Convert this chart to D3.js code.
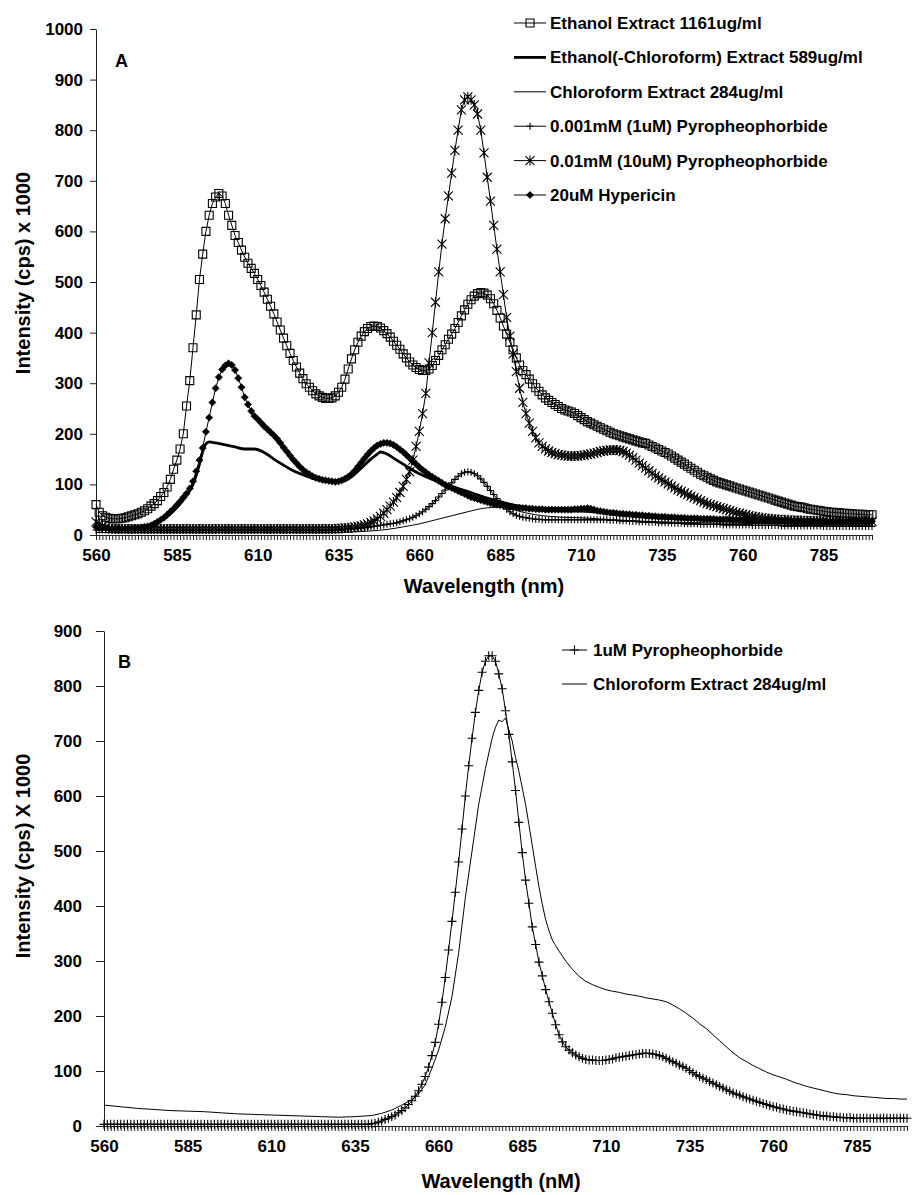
<!DOCTYPE html>
<html>
<head>
<meta charset="utf-8">
<script src="https://cdn.jsdelivr.net/npm/d3@7"></script>
<style>
  body { margin: 0; background: #fff; }
  text { font-family: "Liberation Sans", Arial, Helvetica, sans-serif; font-weight: bold; fill: #000; }
</style>
</head>
<body>
<div id="chart"></div>
<script>
// wavelength categories, 1 nm steps (560 .. 800)
const wavelengths = d3.range(560, 801);
const xTickLabels = [560, 585, 610, 635, 660, 685, 710, 735, 760, 785];

// ---- panel A, sampled every nm ----
const ethanolExtract = [
  60,45,38,35,33,32,32,32,33,34,
  36,38,40,42,45,48,52,57,62,68,
  76,84,95,110,130,148,170,200,255,305,
  370,435,505,555,600,632,655,668,675,670,
  655,632,612,592,578,563,549,537,527,517,
  505,493,480,466,452,437,421,405,389,374,
  359,345,332,320,309,299,292,285,279,275,
  272,270,270,271,275,282,292,308,328,348,
  366,381,393,402,408,412,413,412,409,404,
  398,391,383,375,367,358,350,342,336,331,
  327,325,325,328,335,345,355,366,376,387,
  397,408,420,433,445,456,465,472,477,479,
  478,474,467,457,444,429,413,397,381,366,
  350,336,325,317,308,299,291,284,277,271,
  266,262,258,254,250,247,245,243,240,236,
  232,228,224,221,218,215,212,209,206,203,
  200,198,196,194,192,190,188,186,184,182,
  181,178,175,172,169,166,163,160,156,152,
  148,144,140,136,132,128,124,120,117,114,
  111,108,105,103,101,99,97,95,93,91,
  89,87,85,83,81,79,77,75,73,71,
  69,67,65,63,61,59,57,56,55,54,
  52,51,50,49,48,47,46,45,45,44,
  44,43,43,42,42,41,41,41,40,40,
  40
];

const pyro1uM_A = [
  10,10,10,10,10,10,10,10,10,10,
  10,10,10,10,10,10,10,10,10,10,
  10,10,10,10,10,10,10,10,10,10,
  10,10,10,10,10,10,10,10,10,10,
  10,10,10,10,10,10,10,10,10,10,
  10,10,10,10,10,10,10,10,10,10,
  10,10,10,10,10,10,10,10,10,10,
  10,10,10,10,10,11,11,11,12,12,
  13,13,14,14,15,16,17,18,19,20,
  21,22,23,24,26,28,30,32,35,38,
  42,46,51,56,62,68,75,82,89,96,
  103,110,116,121,124,125,124,121,117,111,
  104,96,88,80,72,64,57,51,46,42,
  39,37,35,34,33,32,31,31,30,30,
  30,30,30,30,30,30,30,30,30,30,
  30,30,30,30,30,30,30,30,30,29,
  29,29,28,28,28,27,27,27,26,26,
  26,25,25,25,24,24,24,24,23,23,
  23,23,22,22,22,22,22,21,21,21,
  21,21,21,21,20,20,20,20,20,20,
  20,20,20,19,19,19,19,19,19,19,
  19,19,18,18,18,18,18,18,18,18,
  18,18,18,18,18,17,17,17,17,17,
  17,17,17,17,17,17,17,17,17,17,
  17
];

const pyro10uM_A = [
  26,22,18,15,13,12,12,12,12,12,
  12,12,12,12,12,12,12,12,12,12,
  12,12,12,12,12,12,12,12,12,12,
  12,12,12,12,12,12,12,12,12,12,
  12,12,12,12,12,12,12,12,12,12,
  12,12,12,12,12,12,12,12,12,12,
  12,12,12,12,12,12,12,12,12,12,
  12,12,12,12,12,13,13,14,14,15,
  16,17,18,20,22,25,28,32,37,43,
  50,57,65,74,84,96,110,125,148,175,
  205,240,280,340,400,460,520,575,625,670,
  715,760,800,840,860,866,860,850,832,800,
  755,707,660,612,565,520,475,430,393,358,
  323,290,262,240,221,205,192,182,175,170,
  166,163,161,159,158,157,156,156,156,156,
  157,158,159,160,162,163,165,166,167,168,
  168,168,167,165,162,158,153,148,142,137,
  132,127,122,117,113,109,105,101,97,93,
  89,86,83,80,77,74,71,68,65,62,
  60,58,56,54,52,50,48,46,44,43,
  41,40,38,37,36,35,34,33,32,32,
  31,31,30,30,30,29,29,29,29,28,
  28,28,28,28,28,28,27,27,27,27,
  27,27,27,27,27,27,27,27,27,27,
  27
];

const hypericin = [
  16,15,14,14,13,13,13,13,13,13,
  13,13,14,14,15,16,17,19,22,26,
  30,34,40,46,52,59,66,74,82,92,
  106,126,148,172,204,232,262,290,312,327,
  335,339,336,326,310,292,272,258,245,235,
  229,222,215,209,203,197,190,182,173,165,
  157,149,142,135,129,124,120,116,113,111,
  109,108,107,106,105,106,108,111,115,120,
  127,135,143,151,159,166,172,177,180,182,
  182,181,178,174,169,164,158,152,146,140,
  134,129,124,119,115,111,107,103,99,96,
  93,90,87,84,81,78,75,73,71,69,
  67,65,63,61,60,59,58,57,56,55,
  54,54,53,53,52,52,51,51,51,50,
  50,50,50,50,50,50,50,50,51,51,
  52,52,53,52,50,48,47,46,45,44,
  44,43,42,42,41,41,40,40,39,39,
  38,38,37,37,36,36,36,35,35,35,
  34,34,34,33,33,33,33,32,32,32,
  32,32,31,31,31,31,31,30,30,30,
  30,30,30,30,29,29,29,29,29,29,
  29,28,28,28,28,28,28,28,28,28,
  28,28,27,27,27,27,27,27,27,27,
  27,27,27,27,27,27,27,27,27,27,
  27
];

// plain lines (no markers), read at irregular wavelengths
const ethChlWl  = [560,565,570,575,578,581,584,587,590,592,593,594,595,597,600,603,606,609,612,615,618,621,624,627,630,633,636,639,642,645,647,648,650,652,655,658,661,664,667,670,675,680,685,690,695,700,705,710,715,720,725,730,740,750,760,780,800];
const ethChlVal = [15,13,13,15,22,32,48,70,100,140,165,180,184,182,178,174,170,170,163,150,138,127,119,112,108,105,106,115,132,150,160,164,160,152,140,128,118,110,103,96,86,75,66,58,53,50,48,47,45,41,38,35,32,29,27,25,24];

const chlA_Wl  = [560,580,600,620,635,640,645,650,655,660,665,670,675,680,685,688,692,696,700,705,710,715,720,730,740,760,780,800];
const chlA_Val = [5,5,5,5,5,6,8,11,16,22,30,38,46,53,55,52,45,40,37,35,34,32,30,27,25,23,21,20];

// ---- panel B ----
const pyro1uM_B = [
  3,3,3,3,3,3,3,3,3,3,
  3,3,3,3,3,3,3,3,3,3,
  3,3,3,3,3,3,3,3,3,3,
  3,3,3,3,3,3,3,3,3,3,
  3,3,3,3,3,3,3,3,3,3,
  3,3,3,3,3,3,3,3,3,3,
  3,3,3,3,3,3,3,3,3,3,
  3,3,3,3,3,3,3,3,3,3,
  4,5,7,9,12,14,17,20,24,28,
  33,39,46,54,64,76,90,107,128,152,
  185,225,270,320,372,425,480,540,600,655,
  705,752,792,825,845,855,855,845,822,795,
  755,712,662,610,552,497,447,405,362,330,
  298,273,248,226,205,184,166,153,144,138,
  133,129,126,123,121,120,120,119,119,119,
  120,121,122,124,125,126,127,128,129,130,
  131,132,132,132,131,130,128,126,123,120,
  117,114,111,108,105,101,97,93,90,87,
  84,81,78,75,72,69,66,63,60,58,
  56,53,51,49,47,45,43,41,39,37,
  35,34,32,31,29,28,27,26,25,24,
  23,22,21,20,19,18,18,17,17,16,
  16,15,15,15,14,14,14,14,14,14,
  14,14,14,14,14,14,14,14,14,14,
  14
];

const chlB_Wl  = [560,565,570,575,580,585,590,595,600,605,610,615,620,625,630,635,640,643,646,649,652,654,656,658,660,662,664,666,668,670,672,674,676,677,678,679,680,681,682,683,684,685,686,687,688,689,690,691,692,693,694,695,696,698,700,702,704,706,708,710,712,714,716,718,720,722,724,726,728,730,732,734,736,738,740,742,744,746,748,750,752,754,756,758,760,762,764,766,768,770,772,774,776,778,780,782,784,786,788,790,792,794,796,798,800];
const chlB_Val = [38,35,32,30,28,27,26,24,22,21,20,19,18,17,16,17,19,23,29,38,48,58,75,105,138,180,235,315,415,500,585,650,705,725,738,735,742,720,700,670,645,615,585,548,510,472,435,403,375,355,338,328,318,300,285,272,263,257,252,248,245,243,240,238,236,233,231,229,226,220,213,205,196,186,177,166,155,144,133,124,117,110,104,98,93,89,85,80,76,72,69,66,63,60,58,57,55,54,53,52,51,50,50,49,49];

// ---- drawing ----
const width = 913, height = 1195;
const svg = d3.select("#chart").append("svg")
  .attr("width", width).attr("height", height)
  .style("display", "block");

const markerPaths = {
  square:  "M-4,-4h8v8h-8z",
  plusS:   "M-3.5,0H3.5M0,-3.5V3.5",
  plusL:   "M-4.5,0H4.5M0,-4.5V4.5",
  star:    "M-4.5,-4.5L4.5,4.5M-4.5,4.5L4.5,-4.5M0,-5V5",
  diamond: "M0,-3.6L3.6,0L0,3.6L-3.6,0Z"
};

function drawMarker(g, kind, x, y) {
  g.append("path")
    .attr("d", markerPaths[kind])
    .attr("transform", `translate(${x},${y})`)
    .attr("fill", kind === "diamond" ? "#000" : "none")
    .attr("stroke", "#000")
    .attr("stroke-width", kind === "diamond" ? 0.6 : 1.1);
}

function panel(cfg) {
  const x = d3.scaleLinear().domain([560, 800]).range(cfg.xRange);
  const y = d3.scaleLinear().domain([0, cfg.yMax]).range(cfg.yRange);
  const g = svg.append("g");

  // x axis: a tick for every category, labels every 25 nm
  const xAxis = g.append("g")
    .attr("transform", `translate(0,${cfg.yRange[0]})`)
    .call(d3.axisBottom(x)
      .tickValues(wavelengths)
      .tickSize(5)
      .tickSizeOuter(0)
      .tickPadding(cfg.xPad)
      .tickFormat(d => xTickLabels.includes(d) ? d : ""));
  xAxis.select(".domain").attr("stroke", "#222");
  xAxis.selectAll(".tick line").attr("stroke", "#222");
  xAxis.selectAll("text").attr("font-size", 17).attr("font-family", null);

  const yAxis = g.append("g")
    .attr("transform", `translate(${cfg.xRange[0]},0)`)
    .call(d3.axisLeft(y)
      .tickValues(d3.range(0, cfg.yMax + 1, 100))
      .tickFormat(d3.format("d"))
      .tickSize(cfg.yTick)
      .tickSizeOuter(0)
      .tickPadding(cfg.yPad));
  yAxis.select(".domain").attr("stroke", "#222");
  yAxis.selectAll(".tick line").attr("stroke", "#222");
  yAxis.selectAll("text").attr("font-size", 17).attr("font-family", null);

  // series
  cfg.series.forEach(s => {
    const pts = s.wl.map((w, i) => [w, s.values[i]]);
    const line = d3.line()
      .x(d => x(d[0])).y(d => y(d[1]))
      .curve(s.smooth ? d3.curveMonotoneX : d3.curveLinear);
    g.append("path")
      .datum(pts)
      .attr("fill", "none")
      .attr("stroke", "#000")
      .attr("stroke-width", s.width)
      .attr("d", line);
    if (s.marker) {
      const mg = g.append("g");
      pts.forEach(d => drawMarker(mg, s.marker, x(d[0]), y(d[1])));
    }
  });

  // legend
  const lg = g.append("g");
  cfg.series.forEach((s, i) => {
    const cy = cfg.legend.y0 + i * cfg.legend.step;
    lg.append("line")
      .attr("x1", cfg.legend.x1).attr("x2", cfg.legend.x2)
      .attr("y1", cy).attr("y2", cy)
      .attr("stroke", "#000").attr("stroke-width", s.width);
    if (s.marker) drawMarker(lg, s.marker, (cfg.legend.x1 + cfg.legend.x2) / 2, cy);
    lg.append("text")
      .attr("x", cfg.legend.tx).attr("y", cy + 6)
      .attr("font-size", 17)
      .text(s.name);
  });

  // panel letter and axis titles
  g.append("text").attr("x", cfg.letter[0]).attr("y", cfg.letter[1])
    .attr("font-size", 18).text(cfg.letter[2]);
  g.append("text")
    .attr("x", cfg.xTitle[0]).attr("y", cfg.xTitle[1])
    .attr("text-anchor", "middle").attr("font-size", 20)
    .text(cfg.xTitle[2]);
  g.append("text")
    .attr("transform", `translate(${cfg.yTitle[0]},${cfg.yTitle[1]}) rotate(-90)`)
    .attr("text-anchor", "middle").attr("font-size", 20)
    .text(cfg.yTitle[2]);
}

panel({
  xRange: [96, 872], yRange: [535, 29], yMax: 1000,
  yTick: 6, yPad: 7, xPad: 9,
  series: [
    { name: "Ethanol Extract 1161ug/ml", wl: wavelengths, values: ethanolExtract, width: 1, marker: "square" },
    { name: "Ethanol(-Chloroform) Extract 589ug/ml", wl: ethChlWl, values: ethChlVal, width: 2.8, smooth: true },
    { name: "Chloroform Extract 284ug/ml", wl: chlA_Wl, values: chlA_Val, width: 1, smooth: true },
    { name: "0.001mM (1uM) Pyropheophorbide", wl: wavelengths, values: pyro1uM_A, width: 1, marker: "plusS" },
    { name: "0.01mM (10uM) Pyropheophorbide", wl: wavelengths, values: pyro10uM_A, width: 1, marker: "star" },
    { name: "20uM Hypericin", wl: wavelengths, values: hypericin, width: 1, marker: "diamond" }
  ],
  legend: { x1: 514, x2: 546, tx: 550, y0: 23, step: 34.4 },
  letter: [115, 67, "A"],
  xTitle: [484, 593, "Wavelength (nm)"],
  yTitle: [30, 273, "Intensity (cps) x 1000"]
});

panel({
  xRange: [104, 907], yRange: [1126, 631], yMax: 900,
  yTick: 8, yPad: 14, xPad: 9,
  series: [
    { name: "1uM Pyropheophorbide", wl: wavelengths, values: pyro1uM_B, width: 1, marker: "plusL" },
    { name: "Chloroform Extract 284ug/ml", wl: chlB_Wl, values: chlB_Val, width: 1 }
  ],
  legend: { x1: 562, x2: 587, tx: 593, y0: 650, step: 34 },
  letter: [118, 668, "B"],
  xTitle: [501, 1188, "Wavelength (nM)"],
  yTitle: [30, 856, "Intensity (cps) X 1000"]
});
</script>
</body>
</html>
